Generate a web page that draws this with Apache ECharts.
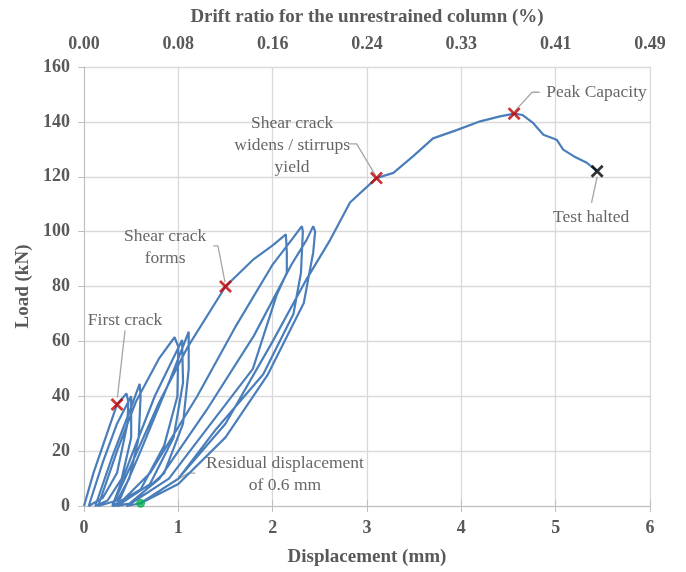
<!DOCTYPE html>
<html>
<head>
<meta charset="utf-8">
<script src="https://cdn.jsdelivr.net/npm/echarts@6/dist/echarts.min.js"></script>
<style>
  html, body { margin: 0; padding: 0; background: #fff; }
  #demo { width: 686px; height: 572px; }
</style>
</head>
<body>
<div id="demo"></div>
<script>
// 位移-荷载滞回曲线 (displacement mm, load kN)
var curveX = [
    0, 0.1, 0.2, 0.35, 0.45, 0.47, 0.46, 0.35, 0.2, 0.05,
    0.2, 0.35, 0.5, 0.52, 0.5, 0.4, 0.25, 0.12,
    0.3, 0.5, 0.59, 0.6, 0.58, 0.48, 0.35, 0.15,
    0.35, 0.55, 0.8, 0.96, 1.0, 0.99, 0.85, 0.6, 0.3,
    0.5, 0.75, 1.04, 1.05, 0.95, 0.7, 0.35,
    0.6, 0.9, 1.11, 1.11, 1.05, 0.85, 0.5, 0.3,
    0.5, 0.8, 1.1, 1.5, 1.8, 2.0, 2.14, 2.15, 2.15, 2.04, 1.79, 1.3, 0.9, 0.5, 0.35,
    0.7, 1.2, 1.6, 2.0, 2.2, 2.31, 2.32, 2.3, 2.22, 1.9, 1.4, 1.0, 0.6, 0.45,
    0.8, 1.3, 1.8, 2.2, 2.36, 2.43, 2.45, 2.43, 2.33, 1.95, 1.5, 1.0, 0.6,
    1.0, 1.5, 2.0, 2.36, 2.61, 2.82, 3.1, 3.28, 3.49, 3.7, 3.95, 4.2, 4.41, 4.56, 4.65,
    4.76, 4.87, 5.01, 5.08, 5.19, 5.33, 5.44
];
var curveY = [
    0, 12, 22, 37, 41, 38, 30, 12, 3, 0,
    16, 30, 40, 40.5, 25, 10, 2, 0,
    18, 36, 44.5, 40, 25, 10, 2, 0,
    20, 38, 54, 61.5, 58, 40, 22, 6, 0,
    18, 40, 60.5, 45, 25, 8, 0,
    20, 45, 63.5, 50, 30, 12, 1, 0,
    15, 38, 58, 80, 90, 95, 99, 92.5, 85, 76.7, 50, 28, 10, 1, 0,
    12, 40, 65, 88, 97, 102, 100, 85, 70, 48, 28, 10, 1, 0,
    10, 35, 62, 88, 97, 102, 100, 92.5, 74, 48, 25, 8, 1,
    10, 30, 60, 82.7, 97, 110.6, 119.5, 121.4, 127.5, 134, 137, 140.2, 142, 143, 142.5,
    139.6, 135.3, 133.5, 129.9, 127.5, 125.1, 122
];

// 关键点
var redX = [0.35, 1.5, 3.1, 4.56];
var redY = [37, 80, 119.5, 143];
var haltX = 5.44, haltY = 122;
var residualX = 0.6, residualY = 1;

// 顶部漂移率刻度
var driftLabels = ['0.00', '0.08', '0.16', '0.24', '0.33', '0.41', '0.49'];

// 注释文字
var noteText = ['First crack', 'Shear crack\nforms', 'Shear crack\nwidens / stirrups\nyield',
    'Peak Capacity', 'Test halted', 'Residual displacement\nof 0.6 mm'];
var noteX = [0.435, 0.86, 2.206, 4.9, 5.376, 2.13];
var noteY = [67.7, 94.3, 131.4, 150.6, 105.2, 11.6];

// 引线
var leaders = [
    [[0.435, 64], [0.354, 39.5]],
    [[1.37, 94.8], [1.42, 94.8], [1.495, 81.5]],
    [[2.80, 132], [2.89, 132], [3.09, 120.5]],
    [[4.83, 150.8], [4.75, 150.8], [4.57, 144]],
    [[5.44, 120], [5.38, 110.5]],
    [[1.18, 12], [1.106, 12], [0.647, 2.3]]
];

var curve = [];
for (var i = 0; i < curveX.length; i++) {
    curve.push([curveX[i], curveY[i]]);
}
var redPts = [];
for (var i = 0; i < redX.length; i++) {
    redPts.push([redX[i], redY[i]]);
}
var notes = [];
for (var i = 0; i < noteText.length; i++) {
    notes.push({ value: [noteX[i], noteY[i]], text: noteText[i], left: i == 3 });
}

var crossPath = 'path://M0,1.5L1.5,0L5,3.5L8.5,0L10,1.5L6.5,5L10,8.5L8.5,10L5,6.5L1.5,10L0,8.5L3.5,5Z';
var gray = '#595959';
var font = '"Liberation Serif", "Times New Roman", serif';

var series = [];
leaders.forEach(function (l) {
    series.push({
        type: 'line', data: l, symbol: 'none', silent: true, z: 3,
        lineStyle: { color: '#a6a6a6', width: 1.3 }
    });
});
series.push({
    type: 'line', data: curve, symbol: 'none', z: 4,
    lineStyle: { color: '#4a7ebb', width: 2.2 }
});
series.push({
    type: 'scatter', data: redPts, symbol: crossPath, symbolSize: 13, z: 6,
    itemStyle: { color: '#c00000' }
});
series.push({
    type: 'scatter', data: [[haltX, haltY]], symbol: crossPath, symbolSize: 13, z: 6,
    itemStyle: { color: '#000' }
});
series.push({
    type: 'scatter', data: [[residualX, residualY]], symbol: 'circle', symbolSize: 9, z: 6,
    itemStyle: { color: '#00b050' }
});
series.push({
    type: 'scatter', symbolSize: 0, z: 7, silent: true,
    data: notes.map(function (n) {
        return {
            value: n.value,
            label: {
                show: true, position: 'inside', formatter: n.text,
                align: n.left ? 'left' : 'center', verticalAlign: 'middle',
                color: '#404040', fontFamily: font, fontSize: 17.5, lineHeight: 22
            }
        };
    })
});

var chartDom = document.getElementById('demo');
var myChart = echarts.init(chartDom);
var option = {
    animation: false,
    grid: { left: 84, right: 36, top: 67, bottom: 64 },
    xAxis: [
        {
            type: 'value', min: 0, max: 6, interval: 1, position: 'bottom',
            name: 'Displacement (mm)', nameLocation: 'middle', nameGap: 42,
            nameTextStyle: { color: gray, fontFamily: font, fontSize: 19, fontWeight: 'bold' },
            axisLine: { show: true, onZero: false, lineStyle: { color: '#bfbfbf' } },
            axisTick: { show: true, length: 6, lineStyle: { color: '#bfbfbf' } },
            axisLabel: { color: gray, fontFamily: font, fontSize: 18, fontWeight: 'bold', margin: 13 },
            splitLine: { show: true, lineStyle: { color: '#d9d9d9', width: 1.3 } }
        },
        {
            type: 'value', min: 0, max: 6, interval: 1, position: 'top',
            name: 'Drift ratio for the unrestrained column (%)', nameLocation: 'middle', nameGap: 40,
            nameTextStyle: { color: gray, fontFamily: font, fontSize: 19, fontWeight: 'bold' },
            axisLine: { show: true, lineStyle: { color: '#bfbfbf' } },
            axisTick: { show: true, length: 6, lineStyle: { color: '#bfbfbf' } },
            axisLabel: {
                color: gray, fontFamily: font, fontSize: 18, fontWeight: 'bold', margin: 14,
                formatter: function (v) { return driftLabels[Math.round(v)]; }
            },
            splitLine: { show: false }
        }
    ],
    yAxis: {
        type: 'value', min: 0, max: 160, interval: 20,
        name: 'Load (kN)', nameLocation: 'middle', nameGap: 50,
        nameTextStyle: { color: gray, fontFamily: font, fontSize: 19, fontWeight: 'bold' },
        axisLine: { show: true, lineStyle: { color: '#bfbfbf' } },
        axisTick: { show: true, length: 6, lineStyle: { color: '#bfbfbf' } },
        axisLabel: { color: gray, fontFamily: font, fontSize: 18, fontWeight: 'bold', margin: 14 },
        splitLine: { show: true, lineStyle: { color: '#d9d9d9', width: 1.3 } }
    },
    series: series
};
option && myChart.setOption(option);
</script>
</body>
</html>
